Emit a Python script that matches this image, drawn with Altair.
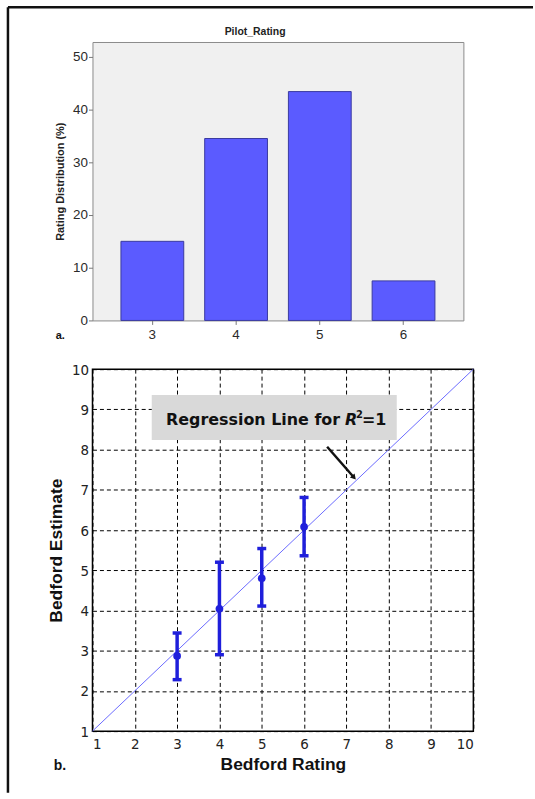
import altair as alt
import pandas as pd

# ---------------- data ----------------
ratings = ["3", "4", "5", "6"]
rating_pct = [15.0, 34.5, 43.4, 7.5]

bedford_rating = [3, 4, 5, 6]
estimate_mean = [2.87, 4.04, 4.80, 6.08]
estimate_low = [2.28, 2.90, 4.11, 5.36]
estimate_high = [3.44, 5.20, 5.54, 6.81]

ref_x = [1, 10]
ref_y = [1, 10]

box_x = [2.40, 8.19]
box_y = [9.36, 8.24]
label_anchor = [6.97, 8.615]
arrow_x = [6.545, 7.18]
arrow_y = [8.07, 7.305]

SANS = "Liberation Sans, Arial, sans-serif"
NARROW = "Liberation Sans Narrow, Arial Narrow, DejaVu Sans Condensed, Liberation Sans, sans-serif"
ANNOT = "DejaVu Sans, sans-serif"
BLUE = "#1f1fdb"

deco = alt.Data(values=[{"k": 0}])

# ---------------- panel a ----------------
bar_df = pd.DataFrame({"rating": ratings, "pct": rating_pct})

bars = alt.Chart(bar_df).mark_bar(color="#5b5bff", stroke="#3a3aa0", strokeWidth=1).encode(
    x=alt.X("rating:N", sort=ratings, title=None,
            scale=alt.Scale(paddingInner=0.25, paddingOuter=0.34),
            axis=alt.Axis(labelAngle=0, domain=False, tickColor="#777", tickSize=4,
                          labelPadding=3, labelFont=SANS, labelFontSize=13.5,
                          labelColor="#2a2a2a")),
    y=alt.Y("pct:Q", scale=alt.Scale(domain=[0, 52.8], nice=False),
            title="Rating Distribution (%)",
            axis=alt.Axis(values=[0, 10, 20, 30, 40, 50], grid=False, domain=False,
                          tickColor="#777", tickSize=4, labelPadding=1,
                          labelFont=SANS, labelFontSize=13.5, labelColor="#2a2a2a",
                          titleFont=SANS, titleFontSize=11, titleFontWeight="bold",
                          titleColor="#222", titlePadding=7)),
)

label_a = alt.Chart(deco).mark_text(text="a.", font=SANS, fontWeight="bold", fontSize=11,
                                    align="left", baseline="alphabetic", color="#111").encode(
    x=alt.value(-37), y=alt.value(299))

top = alt.layer(bars, label_a).properties(
    width=373, height=280,
    view=alt.ViewBackground(fill="#f0f0f0", stroke="#8a8a8a", strokeWidth=1),
    title=alt.TitleParams("Pilot_Rating", font=SANS, fontSize=10.5, fontWeight="bold",
                          color="#222", anchor="middle", frame="group", dx=-23, offset=5),
)

# ---------------- panel b ----------------
err_df = pd.DataFrame({"x": bedford_rating, "y": estimate_mean,
                       "lo": estimate_low, "hi": estimate_high})
ref_df = pd.DataFrame({"x": ref_x, "y": ref_y})
box_df = pd.DataFrame({"x": [box_x[0]], "x2": [box_x[1]], "y": [box_y[0]], "y2": [box_y[1]]})
lab_df = pd.DataFrame({"x": [label_anchor[0]], "y": [label_anchor[1]]})
arr_df = pd.DataFrame({"x": arrow_x, "y": arrow_y, "o": [0, 1]})
head_df = pd.DataFrame({"x": [arrow_x[1]], "y": [arrow_y[1]]})

ticks = list(range(1, 11))
x_axis = alt.Axis(values=ticks, grid=True, gridColor="black", gridDash=[4, 3], gridWidth=1,
                  gridOpacity=1, domain=False, ticks=False, labelPadding=5, labelFont=NARROW,
                  labelFontSize=15, labelColor="#222", titleFont=SANS, titleFontSize=17.5,
                  titleFontWeight="bold", titleColor="#111", titlePadding=5)
y_axis = alt.Axis(values=ticks, grid=True, gridColor="black", gridDash=[4, 3], gridWidth=1,
                  gridOpacity=1, domain=False, ticks=False, labelPadding=4, labelFont=NARROW,
                  labelFontSize=15, labelColor="#222", titleFont=SANS, titleFontSize=17.5,
                  titleFontWeight="bold", titleColor="#111", titlePadding=6)
xs = alt.Scale(domain=[1, 10], nice=False)
ys = alt.Scale(domain=[1, 10], nice=False)


def X(field="x"):
    return alt.X(f"{field}:Q", scale=xs, axis=x_axis, title="Bedford Rating")


def Y(field="y"):
    return alt.Y(f"{field}:Q", scale=ys, axis=y_axis, title="Bedford Estimate")


ref_line = alt.Chart(ref_df).mark_line(color="#6b6bff", strokeWidth=1).encode(x=X(), y=Y())
err_rule = alt.Chart(err_df).mark_rule(color=BLUE, strokeWidth=3.5).encode(
    x=X(), y=Y("lo"), y2="hi:Q")
cap_lo = alt.Chart(err_df).mark_tick(color=BLUE, thickness=3.5, size=9, orient="horizontal",
                                     opacity=1).encode(x=X(), y=Y("lo"))
cap_hi = alt.Chart(err_df).mark_tick(color=BLUE, thickness=3.5, size=9, orient="horizontal",
                                     opacity=1).encode(x=X(), y=Y("hi"))
means = alt.Chart(err_df).mark_circle(color=BLUE, size=60, opacity=1).encode(x=X(), y=Y())

box = alt.Chart(box_df).mark_rect(fill="#d9d9d9").encode(x=X(), x2="x2:Q", y=Y(), y2="y2:Q")
txt_main = alt.Chart(lab_df).mark_text(text="Regression Line for", font=ANNOT, fontSize=16,
                                       fontWeight="bold", align="right", baseline="alphabetic",
                                       dx=-5, color="#111").encode(x=X(), y=Y())
txt_r = alt.Chart(lab_df).mark_text(text="R", font=ANNOT, fontSize=16, fontWeight="bold",
                                    fontStyle="italic", align="left", baseline="alphabetic",
                                    color="#111").encode(x=X(), y=Y())
txt_sup = alt.Chart(lab_df).mark_text(text="2", font=ANNOT, fontSize=10, fontWeight="bold",
                                      align="left", baseline="alphabetic", dx=11, dy=-7,
                                      color="#111").encode(x=X(), y=Y())
txt_eq = alt.Chart(lab_df).mark_text(text="=1", font=ANNOT, fontSize=16, fontWeight="bold",
                                     align="left", baseline="alphabetic", dx=17,
                                     color="#111").encode(x=X(), y=Y())

arrow_line = alt.Chart(arr_df).mark_line(color="#111", strokeWidth=2.5).encode(
    x=X(), y=Y(), order="o:Q")
arrow_head = alt.Chart(head_df).mark_point(shape="triangle-up", filled=True, color="#111",
                                           size=40, angle=139, opacity=1).encode(x=X(), y=Y())

label_b = alt.Chart(deco).mark_text(text="b.", font=SANS, fontWeight="bold", fontSize=14,
                                    align="left", baseline="alphabetic", color="#111").encode(
    x=alt.value(-39), y=alt.value(403))

# page frame (top and left rules), positioned relative to panel b's plot origin
frame_top = alt.Chart(deco).mark_rule(color="#111", strokeWidth=2.5).encode(
    x=alt.value(-85), x2=alt.value(443), y=alt.value(-364))
frame_left = alt.Chart(deco).mark_rule(color="#111", strokeWidth=2.5).encode(
    x=alt.value(-85), y=alt.value(-364), y2=alt.value(426))

bottom = alt.layer(ref_line, err_rule, cap_lo, cap_hi, means, box, txt_main, txt_r, txt_sup,
                   txt_eq, arrow_line, arrow_head, label_b, frame_top, frame_left).properties(
    width=383, height=364,
    view=alt.ViewBackground(fill="white", stroke="black", strokeWidth=1.5),
)

chart = alt.vconcat(top, bottom, spacing=49, bounds="flush").properties(
    padding={"left": 6, "top": 3, "right": 0, "bottom": 0},
).configure(background="white")

chart.save("out.html", embed_options={"renderer": "svg", "actions": False})
